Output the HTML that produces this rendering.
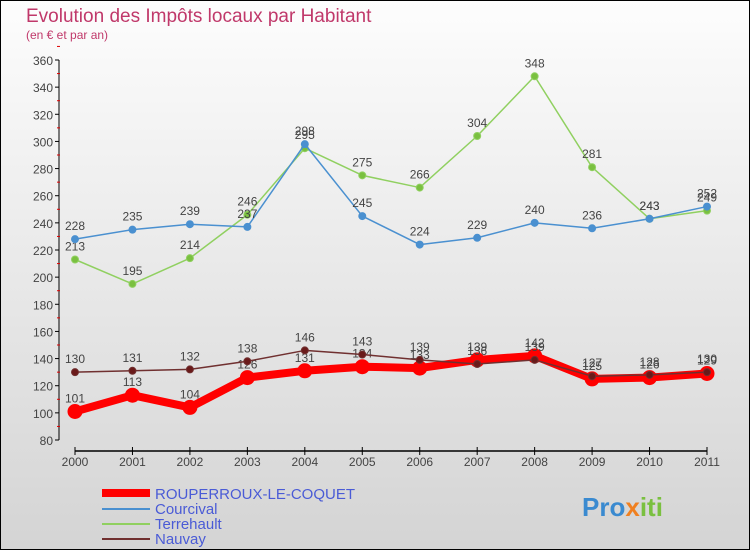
<!DOCTYPE html>
<html><head><meta charset="utf-8"><style>
body{margin:0;}
#c{width:750px;height:550px;position:relative;overflow:hidden;font-family:"Liberation Sans",sans-serif;}
</style></head><body>
<div id="c">
<svg id="s" width="750" height="550" xmlns="http://www.w3.org/2000/svg">
<defs><linearGradient id="bg" x1="0" y1="0" x2="0" y2="1"><stop offset="0" stop-color="#fdfdfd"/><stop offset="1" stop-color="#d4d4d4"/></linearGradient></defs>
<rect x="0.5" y="0.5" width="749" height="549" fill="url(#bg)" stroke="#000"/>
<text x="26" y="22" font-size="19" fill="#c0386a">Evolution des Impôts locaux par Habitant</text>
<text x="26" y="39" font-size="12" fill="#c0386a">(en € et par an)</text>
<g id="axes"></g><g id="series"></g>
<g>
<line x1="102" y1="493" x2="150" y2="493" stroke="#f00" stroke-width="8"/>
<text x="155" y="499" font-size="15" fill="#4a5bd6">ROUPERROUX-LE-COQUET</text>
<line x1="102" y1="509" x2="150" y2="509" stroke="#4a90d0" stroke-width="2"/>
<text x="155" y="514" font-size="15" fill="#4a5bd6">Courcival</text>
<line x1="102" y1="524" x2="150" y2="524" stroke="#90d060" stroke-width="2"/>
<text x="155" y="529" font-size="15" fill="#4a5bd6">Terrehault</text>
<line x1="102" y1="539" x2="150" y2="539" stroke="#703030" stroke-width="2"/>
<text x="155" y="544" font-size="15" fill="#4a5bd6">Nauvay</text>
</g>
<text x="582" y="516" font-size="26" font-weight="bold" fill="#3a8ad0">Pro<tspan fill="#f08020">x</tspan><tspan fill="#7ac040">iti</tspan></text>
</svg></div>
<script>
const years=["2000","2001","2002","2003","2004","2005","2006","2007","2008","2009","2010","2011"];
const yTicks=[80,100,120,140,160,180,200,220,240,260,280,300,320,340,360];
const rouperroux=[101,113,104,126,131,134,133,139,142,125,126,129];
const courcival=[228,235,239,237,298,245,224,229,240,236,243,252];
const terrehault=[213,195,214,246,295,275,266,304,348,281,243,249];
const nauvay=[130,131,132,138,146,143,139,136,139,127,128,130];
const NS="http://www.w3.org/2000/svg";
const X=i=>75+i*(707-75)/11;
const Y=v=>440-(v-80)*380/280;
function mk(t,a,p){const e=document.createElementNS(NS,t);for(const k in a)e.setAttribute(k,a[k]);p.appendChild(e);return e;}
const ax=document.getElementById('axes');
const yl=mk('line',{x1:59,y1:Y(360),x2:59,y2:Y(80),stroke:'#000'},ax);


yTicks.forEach(v=>{
 mk('line',{x1:55,y1:Y(v),x2:59,y2:Y(v),stroke:'#000'},ax);
 mk('line',{x1:57,y1:Y(v+10),x2:60,y2:Y(v+10),stroke:'#d00'},ax);
 const t=mk('text',{x:53,y:Y(v)+5,'font-size':12,fill:'#444','text-anchor':'end'},ax);t.textContent=v;
 
 
});
const xl=mk('line',{x1:X(0),y1:451,x2:X(11),y2:451,stroke:'#000','stroke-width':1.5},ax);


years.forEach((y,i)=>{
 mk('line',{x1:X(i),y1:447,x2:X(i),y2:455,stroke:'#000'},ax);
 const t=mk('text',{x:X(i),y:466,'font-size':12,fill:'#444','text-anchor':'middle'},ax);t.textContent=y;
 
 
});
const sg=document.getElementById('series');
function draw(name,d,col,w,r,dot){
 const g=mk('g',{},sg);
 
 
 mk('polyline',{points:d.map((v,i)=>X(i)+','+Y(v)).join(' '),fill:'none',stroke:col,'stroke-width':w,'stroke-linejoin':'round'},g);
 d.forEach((v,i)=>{
  const c=mk('circle',{cx:X(i),cy:Y(v),r:r,fill:dot,stroke:col,'stroke-width':1},g);
  
  
  const t=mk('text',{x:X(i),y:Y(v)-9,'font-size':12,fill:'#444','text-anchor':'middle'},g);t.textContent=v;
  
  
 });
}
draw('terrehault',terrehault,'#90d060',1.5,3.5,'#7ac040');
draw('courcival',courcival,'#4a90d0',1.5,3.5,'#4a90d0');
draw('rouperroux',rouperroux,'#f00',8,7,'#f00');
draw('nauvay',nauvay,'#703030',1.5,3.5,'#6a1a1a');
</script>
</body></html>
